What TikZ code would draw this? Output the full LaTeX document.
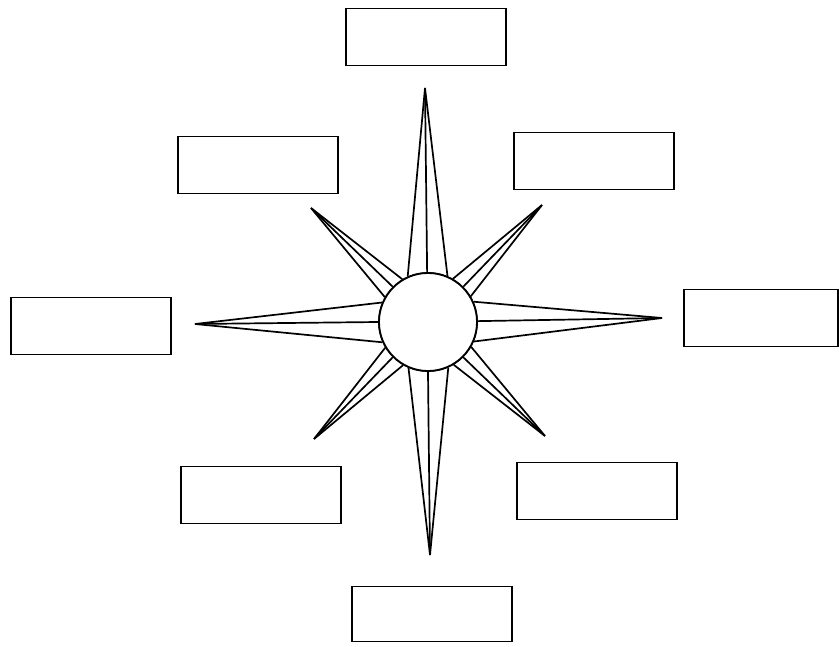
\documentclass[tikz,border=0pt]{standalone}
\begin{document}
\begin{tikzpicture}[x=1pt,y=-1pt,
  box/.style={draw=black,line width=1.8pt,rectangle,inner sep=0pt,minimum width=160pt,minimum height=57pt},
  ray/.style={draw=black,line width=1.7pt,line join=miter,miter limit=6},
  hub/.style={draw=black,fill=white,line width=1.8pt,circle,inner sep=0pt,minimum size=98pt}]
\useasboundingbox (0,0) rectangle (839,647);
\fill[white] (0,0) rectangle (839,647);
% hub
\node[hub] (c) at (428,322) {};
% tips
\coordinate (tN) at (425,88);
\coordinate (tS) at (430,555);
\coordinate (tW) at (195,324);
\coordinate (tE) at (662,318);
\coordinate (tNE) at (542,205);
\coordinate (tNW) at (311,208);
\coordinate (tSW) at (314,439);
\coordinate (tSE) at (545,436);
% cardinal rays
\draw[ray] (c.67) -- (tN) -- (c.114); \draw[ray] (tN) -- (c.91);
\draw[ray] (c.247) -- (tS) -- (c.294); \draw[ray] (tS) -- (c.270);
\draw[ray] (c.157) -- (tW) -- (c.204); \draw[ray] (tW) -- (c.180);
\draw[ray] (c.-23) -- (tE) -- (c.24); \draw[ray] (tE) -- (c.1);
% diagonal rays
\draw[ray] (c.31) -- (tNE) -- (c.60); \draw[ray] (tNE) -- (c.45.7);
\draw[ray] (c.121) -- (tNW) -- (c.150); \draw[ray] (tNW) -- (c.135.7);
\draw[ray] (c.211) -- (tSW) -- (c.240); \draw[ray] (tSW) -- (c.225.7);
\draw[ray] (c.301) -- (tSE) -- (c.330); \draw[ray] (tSE) -- (c.315.7);
\node[hub] at (c) {};
% boxes
\node[box] (bN) at (426,37) {};
\node[box] (bNW) at (258,165) {};
\node[box] (bNE) at (594,161) {};
\node[box] (bW) at (91,326) {};
\node[box,minimum width=154pt] (bE) at (761,318) {};
\node[box] (bSW) at (261,495) {};
\node[box] (bSE) at (597,491) {};
\node[box,minimum height=55pt] (bS) at (432,614) {};
\end{tikzpicture}
\end{document}
